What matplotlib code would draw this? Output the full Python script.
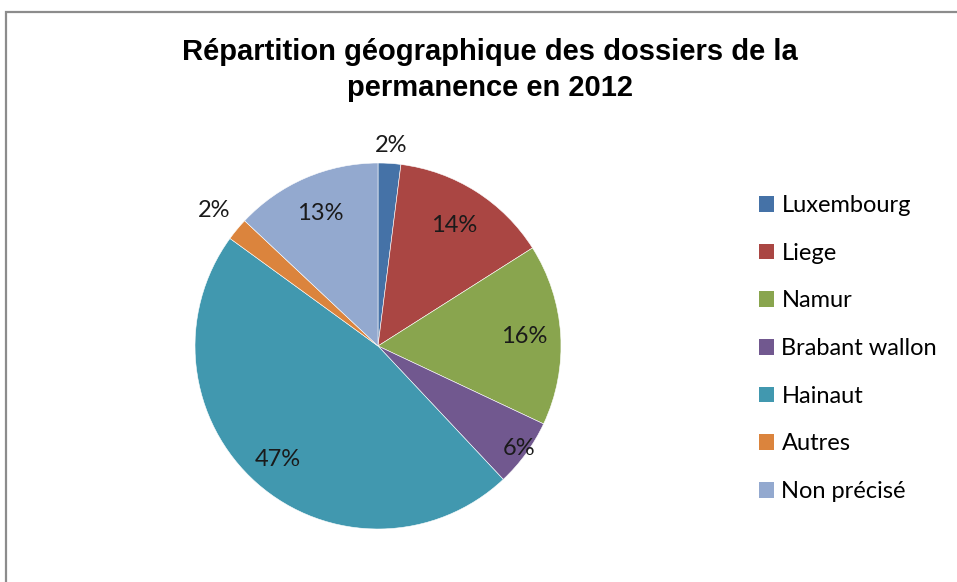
import numpy as np
import matplotlib
matplotlib.use("Agg")
import matplotlib.pyplot as plt
from matplotlib.patches import Rectangle, Patch

categories = ["Luxembourg", "Liege", "Namur", "Brabant wallon", "Hainaut", "Autres", "Non précisé"]
values = [2, 14, 16, 6, 47, 2, 13]
labels = ["2%", "14%", "16%", "6%", "47%", "2%", "13%"]
colors = ["#4572A7", "#AA4643", "#89A54E", "#71588F", "#4198AF", "#DB843D", "#93A9CF"]
label_dist = [1.1, 0.78, 0.8, 0.95, 0.83, 1.16, 0.79]
title = "Répartition géographique des dossiers de la\npermanence en 2012"

W, H = 957, 582
fig = plt.figure(figsize=(W / 100, H / 100), dpi=100)
fig.patch.set_facecolor("white")

# outer frame
fig.add_artist(Rectangle((6 / W, -0.05), 1.2, 1 - 12 / H + 0.05, transform=fig.transFigure,
                         fill=False, edgecolor="#8c8c8c", linewidth=1.6))

cx, cy, r = 378, 346, 183
ax = fig.add_axes([(cx - r) / W, 1 - (cy + r) / H, 2 * r / W, 2 * r / H])
wedges, _ = ax.pie(values, colors=colors, startangle=90, counterclock=False, radius=1,
                   wedgeprops=dict(edgecolor="white", linewidth=0.4))
ax.set_xlim(-1, 1)
ax.set_ylim(-1, 1)
ax.set_aspect("equal")
ax.axis("off")

for w, lab, d in zip(wedges, labels, label_dist):
    ang = np.deg2rad((w.theta1 + w.theta2) / 2)
    ax.text(d * np.cos(ang), d * np.sin(ang), lab, ha="center", va="center",
            fontsize=17, family=["Lato", "DejaVu Sans"], color="#1a1a1a", clip_on=False)

fig.text(490 / W, 1 - 70 / H, title, ha="center", va="center", fontsize=21,
         fontweight="bold", family=["Liberation Sans", "DejaVu Sans"], linespacing=1.4)

handles = [Patch(facecolor=c, edgecolor="none") for c in colors]
fig.legend(handles, categories, loc="upper left", bbox_to_anchor=(759 / W, 1 - 195 / H),
           frameon=False, prop={"family": ["Lato", "DejaVu Sans"], "size": 17},
           handlelength=0.65, handleheight=0.65, handletextpad=0.3, labelspacing=1.13,
           borderaxespad=0, borderpad=0)

fig.savefig("out.png", dpi=100, facecolor="white")
